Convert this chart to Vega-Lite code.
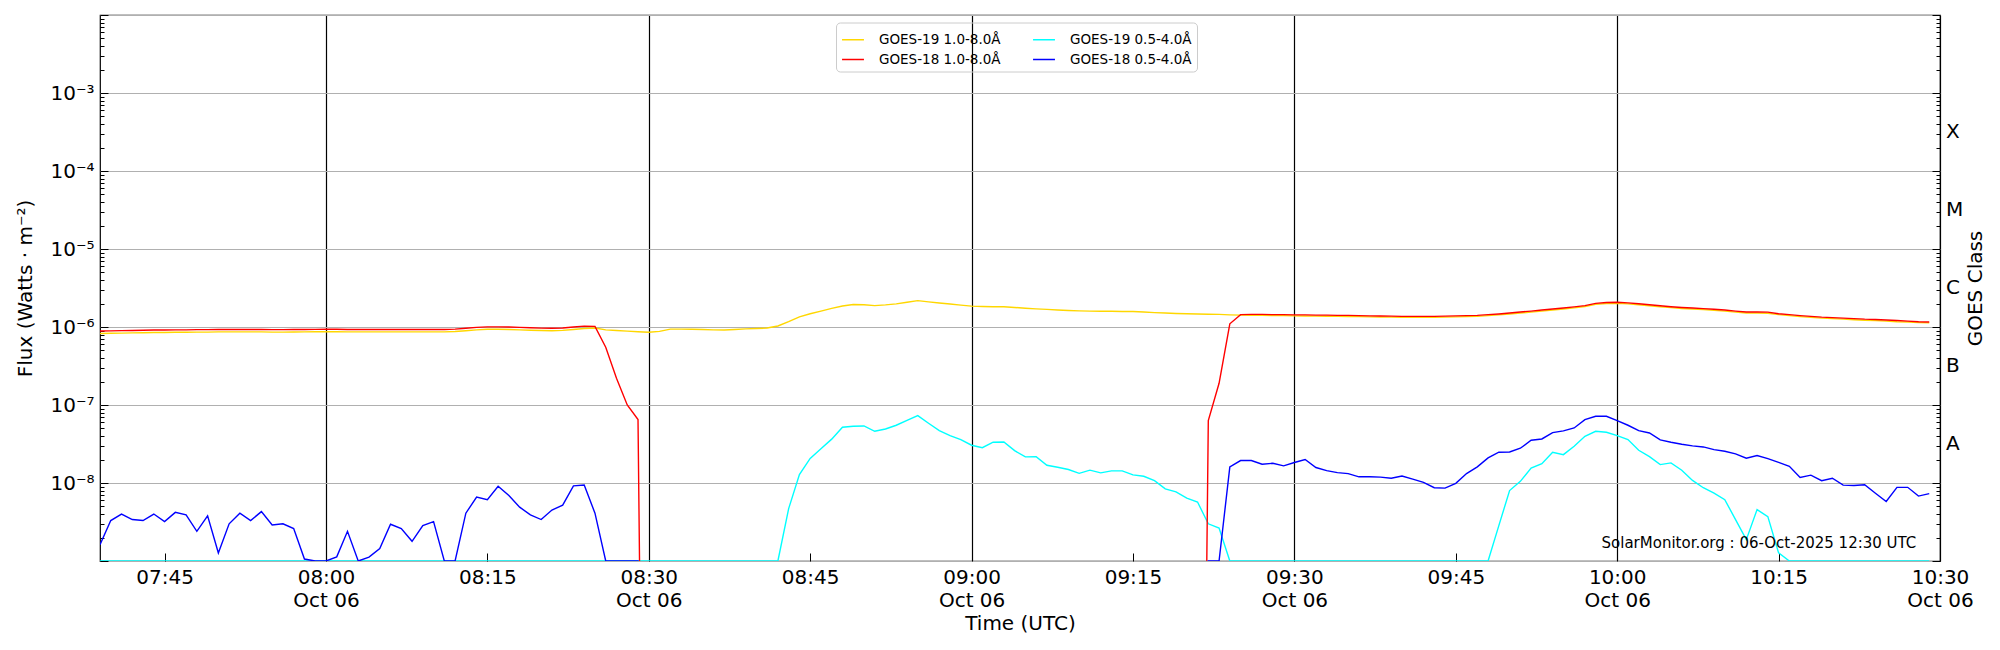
{
"$schema": "https://vega.github.io/schema/vega-lite/v6.json",
"width": 1840, "height": 546,
"autosize": {"type": "none"},
"padding": {"left": 100, "top": 15, "right": 60, "bottom": 89},
"background": "white",
"config": {
  "view": {"stroke": "black", "strokeWidth": 1.2},
  "font": "DejaVu Sans",
  "axis": {"labelFont": "DejaVu Sans", "titleFont": "DejaVu Sans", "labelFontSize": 20, "titleFontSize": 20, "labelColor": "black", "titleColor": "black", "titleFontWeight": "normal", "tickColor": "black", "tickWidth": 1, "domain": false, "labelFlush": false, "labelOverlap": false}
},
"datasets": {"note": [{"note": "SolarMonitor.org : 06-Oct-2025 12:30 UTC"}]},
"data": {"format": {"parse": {"t": "utc:'%Y-%m-%d %H:%M'"}}, "values": [
{"t":"2025-10-06 07:39","g19l":8.25e-7,"g18l":8.87e-7,"g19s":1e-9,"g18s":1.62e-9},
{"t":"2025-10-06 07:40","g19l":8.3e-7,"g18l":8.92e-7,"g19s":1e-9,"g18s":3.3e-9},
{"t":"2025-10-06 07:41","g19l":8.35e-7,"g18l":8.98e-7,"g19s":1e-9,"g18s":4.0e-9},
{"t":"2025-10-06 07:42","g19l":8.4e-7,"g18l":9.03e-7,"g19s":1e-9,"g18s":3.4e-9},
{"t":"2025-10-06 07:43","g19l":8.45e-7,"g18l":9.08e-7,"g19s":1e-9,"g18s":3.3e-9},
{"t":"2025-10-06 07:44","g19l":8.5e-7,"g18l":9.14e-7,"g19s":1e-9,"g18s":4.0e-9},
{"t":"2025-10-06 07:45","g19l":8.5e-7,"g18l":9.14e-7,"g19s":1e-9,"g18s":3.2e-9},
{"t":"2025-10-06 07:46","g19l":8.55e-7,"g18l":9.19e-7,"g19s":1e-9,"g18s":4.2e-9},
{"t":"2025-10-06 07:47","g19l":8.55e-7,"g18l":9.19e-7,"g19s":1e-9,"g18s":3.9e-9},
{"t":"2025-10-06 07:48","g19l":8.6e-7,"g18l":9.25e-7,"g19s":1e-9,"g18s":2.4e-9},
{"t":"2025-10-06 07:49","g19l":8.6e-7,"g18l":9.25e-7,"g19s":1e-9,"g18s":3.8e-9},
{"t":"2025-10-06 07:50","g19l":8.65e-7,"g18l":9.3e-7,"g19s":1e-9,"g18s":1.27e-9},
{"t":"2025-10-06 07:51","g19l":8.65e-7,"g18l":9.3e-7,"g19s":1e-9,"g18s":3.0e-9},
{"t":"2025-10-06 07:52","g19l":8.65e-7,"g18l":9.3e-7,"g19s":1e-9,"g18s":4.1e-9},
{"t":"2025-10-06 07:53","g19l":8.65e-7,"g18l":9.3e-7,"g19s":1e-9,"g18s":3.3e-9},
{"t":"2025-10-06 07:54","g19l":8.65e-7,"g18l":9.3e-7,"g19s":1e-9,"g18s":4.3e-9},
{"t":"2025-10-06 07:55","g19l":8.6e-7,"g18l":9.25e-7,"g19s":1e-9,"g18s":2.9e-9},
{"t":"2025-10-06 07:56","g19l":8.6e-7,"g18l":9.25e-7,"g19s":1e-9,"g18s":3.0e-9},
{"t":"2025-10-06 07:57","g19l":8.62e-7,"g18l":9.27e-7,"g19s":1e-9,"g18s":2.6e-9},
{"t":"2025-10-06 07:58","g19l":8.65e-7,"g18l":9.3e-7,"g19s":1e-9,"g18s":1.06e-9},
{"t":"2025-10-06 07:59","g19l":8.68e-7,"g18l":9.33e-7,"g19s":1e-9,"g18s":1e-9},
{"t":"2025-10-06 08:00","g19l":8.7e-7,"g18l":9.35e-7,"g19s":1e-9,"g18s":1e-9},
{"t":"2025-10-06 08:01","g19l":8.7e-7,"g18l":9.35e-7,"g19s":1e-9,"g18s":1.13e-9},
{"t":"2025-10-06 08:02","g19l":8.65e-7,"g18l":9.3e-7,"g19s":1e-9,"g18s":2.4e-9},
{"t":"2025-10-06 08:03","g19l":8.65e-7,"g18l":9.3e-7,"g19s":1e-9,"g18s":1e-9},
{"t":"2025-10-06 08:04","g19l":8.65e-7,"g18l":9.3e-7,"g19s":1e-9,"g18s":1.12e-9},
{"t":"2025-10-06 08:05","g19l":8.65e-7,"g18l":9.3e-7,"g19s":1e-9,"g18s":1.44e-9},
{"t":"2025-10-06 08:06","g19l":8.65e-7,"g18l":9.3e-7,"g19s":1e-9,"g18s":2.96e-9},
{"t":"2025-10-06 08:07","g19l":8.65e-7,"g18l":9.3e-7,"g19s":1e-9,"g18s":2.6e-9},
{"t":"2025-10-06 08:08","g19l":8.65e-7,"g18l":9.3e-7,"g19s":1e-9,"g18s":1.79e-9},
{"t":"2025-10-06 08:09","g19l":8.65e-7,"g18l":9.3e-7,"g19s":1e-9,"g18s":2.84e-9},
{"t":"2025-10-06 08:10","g19l":8.65e-7,"g18l":9.3e-7,"g19s":1e-9,"g18s":3.2e-9},
{"t":"2025-10-06 08:11","g19l":8.65e-7,"g18l":9.3e-7,"g19s":1e-9,"g18s":1e-9},
{"t":"2025-10-06 08:12","g19l":8.75e-7,"g18l":9.4e-7,"g19s":1e-9,"g18s":1e-9},
{"t":"2025-10-06 08:13","g19l":8.95e-7,"g18l":9.62e-7,"g19s":1e-9,"g18s":4.1e-9},
{"t":"2025-10-06 08:14","g19l":9.2e-7,"g18l":9.89e-7,"g19s":1e-9,"g18s":6.6e-9},
{"t":"2025-10-06 08:15","g19l":9.35e-7,"g18l":1.005e-6,"g19s":1e-9,"g18s":6.1e-9},
{"t":"2025-10-06 08:16","g19l":9.35e-7,"g18l":1.005e-6,"g19s":1e-9,"g18s":9.1e-9},
{"t":"2025-10-06 08:17","g19l":9.3e-7,"g18l":1.0e-6,"g19s":1e-9,"g18s":6.9e-9},
{"t":"2025-10-06 08:18","g19l":9.2e-7,"g18l":9.89e-7,"g19s":1e-9,"g18s":4.9e-9},
{"t":"2025-10-06 08:19","g19l":9.1e-7,"g18l":9.78e-7,"g19s":1e-9,"g18s":3.9e-9},
{"t":"2025-10-06 08:20","g19l":9.0e-7,"g18l":9.68e-7,"g19s":1e-9,"g18s":3.4e-9},
{"t":"2025-10-06 08:21","g19l":8.95e-7,"g18l":9.62e-7,"g19s":1e-9,"g18s":4.5e-9},
{"t":"2025-10-06 08:22","g19l":9.05e-7,"g18l":9.73e-7,"g19s":1e-9,"g18s":5.2e-9},
{"t":"2025-10-06 08:23","g19l":9.3e-7,"g18l":1.0e-6,"g19s":1e-9,"g18s":9.2e-9},
{"t":"2025-10-06 08:24","g19l":9.55e-7,"g18l":1.027e-6,"g19s":1e-9,"g18s":9.4e-9},
{"t":"2025-10-06 08:25","g19l":9.7e-7,"g18l":1.02e-6,"g19s":1e-9,"g18s":4.1e-9},
{"t":"2025-10-06 08:26","g19l":9.2e-7,"g18l":5.5e-7,"g19s":1e-9,"g18s":1e-9},
{"t":"2025-10-06 08:27","g19l":9.0e-7,"g18l":2.2e-7,"g19s":1e-9,"g18s":1e-9},
{"t":"2025-10-06 08:28","g19l":8.85e-7,"g18l":1.0e-7,"g19s":1e-9,"g18s":1e-9},
{"t":"2025-10-06 08:29","g19l":8.7e-7,"g18l":6.5e-8,"g19s":1e-9,"g18s":1e-9},
{"t":"2025-10-06 08:30","g19l":8.55e-7,"g18l":1e-20,"g19s":1e-9,"g18s":1e-20},
{"t":"2025-10-06 08:31","g19l":8.8e-7,"g18l":1e-20,"g19s":1e-9,"g18s":1e-20},
{"t":"2025-10-06 08:32","g19l":9.4e-7,"g18l":1e-20,"g19s":1e-9,"g18s":1e-20},
{"t":"2025-10-06 08:33","g19l":9.4e-7,"g18l":1e-20,"g19s":1e-9,"g18s":1e-20},
{"t":"2025-10-06 08:34","g19l":9.35e-7,"g18l":1e-20,"g19s":1e-9,"g18s":1e-20},
{"t":"2025-10-06 08:35","g19l":9.3e-7,"g18l":1e-20,"g19s":1e-9,"g18s":1e-20},
{"t":"2025-10-06 08:36","g19l":9.2e-7,"g18l":1e-20,"g19s":1e-9,"g18s":1e-20},
{"t":"2025-10-06 08:37","g19l":9.15e-7,"g18l":1e-20,"g19s":1e-9,"g18s":1e-20},
{"t":"2025-10-06 08:38","g19l":9.3e-7,"g18l":1e-20,"g19s":1e-9,"g18s":1e-20},
{"t":"2025-10-06 08:39","g19l":9.45e-7,"g18l":1e-20,"g19s":1e-9,"g18s":1e-20},
{"t":"2025-10-06 08:40","g19l":9.55e-7,"g18l":1e-20,"g19s":1e-9,"g18s":1e-20},
{"t":"2025-10-06 08:41","g19l":9.7e-7,"g18l":1e-20,"g19s":1e-9,"g18s":1e-20},
{"t":"2025-10-06 08:42","g19l":1.03e-6,"g18l":1e-20,"g19s":1e-9,"g18s":1e-20},
{"t":"2025-10-06 08:43","g19l":1.17e-6,"g18l":1e-20,"g19s":4.7e-9,"g18s":1e-20},
{"t":"2025-10-06 08:44","g19l":1.35e-6,"g18l":1e-20,"g19s":1.28e-8,"g18s":1e-20},
{"t":"2025-10-06 08:45","g19l":1.48e-6,"g18l":1e-20,"g19s":2.07e-8,"g18s":1e-20},
{"t":"2025-10-06 08:46","g19l":1.6e-6,"g18l":1e-20,"g19s":2.75e-8,"g18s":1e-20},
{"t":"2025-10-06 08:47","g19l":1.73e-6,"g18l":1e-20,"g19s":3.65e-8,"g18s":1e-20},
{"t":"2025-10-06 08:48","g19l":1.86e-6,"g18l":1e-20,"g19s":5.18e-8,"g18s":1e-20},
{"t":"2025-10-06 08:49","g19l":1.94e-6,"g18l":1e-20,"g19s":5.34e-8,"g18s":1e-20},
{"t":"2025-10-06 08:50","g19l":1.93e-6,"g18l":1e-20,"g19s":5.39e-8,"g18s":1e-20},
{"t":"2025-10-06 08:51","g19l":1.88e-6,"g18l":1e-20,"g19s":4.6e-8,"g18s":1e-20},
{"t":"2025-10-06 08:52","g19l":1.92e-6,"g18l":1e-20,"g19s":4.93e-8,"g18s":1e-20},
{"t":"2025-10-06 08:53","g19l":1.98e-6,"g18l":1e-20,"g19s":5.5e-8,"g18s":1e-20},
{"t":"2025-10-06 08:54","g19l":2.08e-6,"g18l":1e-20,"g19s":6.37e-8,"g18s":1e-20},
{"t":"2025-10-06 08:55","g19l":2.18e-6,"g18l":1e-20,"g19s":7.3e-8,"g18s":1e-20},
{"t":"2025-10-06 08:56","g19l":2.1e-6,"g18l":1e-20,"g19s":5.83e-8,"g18s":1e-20},
{"t":"2025-10-06 08:57","g19l":2.03e-6,"g18l":1e-20,"g19s":4.7e-8,"g18s":1e-20},
{"t":"2025-10-06 08:58","g19l":1.97e-6,"g18l":1e-20,"g19s":4.05e-8,"g18s":1e-20},
{"t":"2025-10-06 08:59","g19l":1.91e-6,"g18l":1e-20,"g19s":3.6e-8,"g18s":1e-20},
{"t":"2025-10-06 09:00","g19l":1.85e-6,"g18l":1e-20,"g19s":3.05e-8,"g18s":1e-20},
{"t":"2025-10-06 09:01","g19l":1.83e-6,"g18l":1e-20,"g19s":2.84e-8,"g18s":1e-20},
{"t":"2025-10-06 09:02","g19l":1.82e-6,"g18l":1e-20,"g19s":3.33e-8,"g18s":1e-20},
{"t":"2025-10-06 09:03","g19l":1.82e-6,"g18l":1e-20,"g19s":3.36e-8,"g18s":1e-20},
{"t":"2025-10-06 09:04","g19l":1.78e-6,"g18l":1e-20,"g19s":2.6e-8,"g18s":1e-20},
{"t":"2025-10-06 09:05","g19l":1.74e-6,"g18l":1e-20,"g19s":2.16e-8,"g18s":1e-20},
{"t":"2025-10-06 09:06","g19l":1.71e-6,"g18l":1e-20,"g19s":2.18e-8,"g18s":1e-20},
{"t":"2025-10-06 09:07","g19l":1.68e-6,"g18l":1e-20,"g19s":1.69e-8,"g18s":1e-20},
{"t":"2025-10-06 09:08","g19l":1.65e-6,"g18l":1e-20,"g19s":1.59e-8,"g18s":1e-20},
{"t":"2025-10-06 09:09","g19l":1.63e-6,"g18l":1e-20,"g19s":1.49e-8,"g18s":1e-20},
{"t":"2025-10-06 09:10","g19l":1.61e-6,"g18l":1e-20,"g19s":1.33e-8,"g18s":1e-20},
{"t":"2025-10-06 09:11","g19l":1.6e-6,"g18l":1e-20,"g19s":1.46e-8,"g18s":1e-20},
{"t":"2025-10-06 09:12","g19l":1.59e-6,"g18l":1e-20,"g19s":1.35e-8,"g18s":1e-20},
{"t":"2025-10-06 09:13","g19l":1.59e-6,"g18l":1e-20,"g19s":1.43e-8,"g18s":1e-20},
{"t":"2025-10-06 09:14","g19l":1.58e-6,"g18l":1e-20,"g19s":1.43e-8,"g18s":1e-20},
{"t":"2025-10-06 09:15","g19l":1.58e-6,"g18l":1e-20,"g19s":1.27e-8,"g18s":1e-20},
{"t":"2025-10-06 09:16","g19l":1.56e-6,"g18l":1e-20,"g19s":1.22e-8,"g18s":1e-20},
{"t":"2025-10-06 09:17","g19l":1.53e-6,"g18l":1e-20,"g19s":1.07e-8,"g18s":1e-20},
{"t":"2025-10-06 09:18","g19l":1.51e-6,"g18l":1e-20,"g19s":8.4e-9,"g18s":1e-20},
{"t":"2025-10-06 09:19","g19l":1.49e-6,"g18l":1e-20,"g19s":7.7e-9,"g18s":1e-20},
{"t":"2025-10-06 09:20","g19l":1.48e-6,"g18l":1e-20,"g19s":6.4e-9,"g18s":1e-20},
{"t":"2025-10-06 09:21","g19l":1.47e-6,"g18l":1e-20,"g19s":5.7e-9,"g18s":1e-20},
{"t":"2025-10-06 09:22","g19l":1.46e-6,"g18l":6.3e-8,"g19s":3.0e-9,"g18s":1e-9},
{"t":"2025-10-06 09:23","g19l":1.45e-6,"g18l":1.9e-7,"g19s":2.65e-9,"g18s":1e-9},
{"t":"2025-10-06 09:24","g19l":1.43e-6,"g18l":1.1e-6,"g19s":1e-9,"g18s":1.61e-8},
{"t":"2025-10-06 09:25","g19l":1.42e-6,"g18l":1.44e-6,"g19s":1e-9,"g18s":1.94e-8},
{"t":"2025-10-06 09:26","g19l":1.41e-6,"g18l":1.45e-6,"g19s":1e-9,"g18s":1.94e-8},
{"t":"2025-10-06 09:27","g19l":1.41e-6,"g18l":1.45e-6,"g19s":1e-9,"g18s":1.74e-8},
{"t":"2025-10-06 09:28","g19l":1.40e-6,"g18l":1.44e-6,"g19s":1e-9,"g18s":1.79e-8},
{"t":"2025-10-06 09:29","g19l":1.40e-6,"g18l":1.44e-6,"g19s":1e-9,"g18s":1.66e-8},
{"t":"2025-10-06 09:30","g19l":1.39e-6,"g18l":1.43e-6,"g19s":1e-9,"g18s":1.83e-8},
{"t":"2025-10-06 09:31","g19l":1.385e-6,"g18l":1.43e-6,"g19s":1e-9,"g18s":2.0e-8},
{"t":"2025-10-06 09:32","g19l":1.38e-6,"g18l":1.42e-6,"g19s":1e-9,"g18s":1.58e-8},
{"t":"2025-10-06 09:33","g19l":1.375e-6,"g18l":1.42e-6,"g19s":1e-9,"g18s":1.44e-8},
{"t":"2025-10-06 09:34","g19l":1.37e-6,"g18l":1.41e-6,"g19s":1e-9,"g18s":1.36e-8},
{"t":"2025-10-06 09:35","g19l":1.365e-6,"g18l":1.41e-6,"g19s":1e-9,"g18s":1.32e-8},
{"t":"2025-10-06 09:36","g19l":1.36e-6,"g18l":1.40e-6,"g19s":1e-9,"g18s":1.2e-8},
{"t":"2025-10-06 09:37","g19l":1.35e-6,"g18l":1.39e-6,"g19s":1e-9,"g18s":1.2e-8},
{"t":"2025-10-06 09:38","g19l":1.345e-6,"g18l":1.385e-6,"g19s":1e-9,"g18s":1.19e-8},
{"t":"2025-10-06 09:39","g19l":1.34e-6,"g18l":1.38e-6,"g19s":1e-9,"g18s":1.15e-8},
{"t":"2025-10-06 09:40","g19l":1.33e-6,"g18l":1.37e-6,"g19s":1e-9,"g18s":1.23e-8},
{"t":"2025-10-06 09:41","g19l":1.33e-6,"g18l":1.37e-6,"g19s":1e-9,"g18s":1.12e-8},
{"t":"2025-10-06 09:42","g19l":1.33e-6,"g18l":1.37e-6,"g19s":1e-9,"g18s":1.02e-8},
{"t":"2025-10-06 09:43","g19l":1.33e-6,"g18l":1.37e-6,"g19s":1e-9,"g18s":8.7e-9},
{"t":"2025-10-06 09:44","g19l":1.34e-6,"g18l":1.38e-6,"g19s":1e-9,"g18s":8.6e-9},
{"t":"2025-10-06 09:45","g19l":1.35e-6,"g18l":1.39e-6,"g19s":1e-9,"g18s":9.9e-9},
{"t":"2025-10-06 09:46","g19l":1.36e-6,"g18l":1.40e-6,"g19s":1e-9,"g18s":1.32e-8},
{"t":"2025-10-06 09:47","g19l":1.37e-6,"g18l":1.41e-6,"g19s":1e-9,"g18s":1.61e-8},
{"t":"2025-10-06 09:48","g19l":1.4e-6,"g18l":1.44e-6,"g19s":1e-9,"g18s":2.1e-8},
{"t":"2025-10-06 09:49","g19l":1.43e-6,"g18l":1.47e-6,"g19s":2.84e-9,"g18s":2.48e-8},
{"t":"2025-10-06 09:50","g19l":1.47e-6,"g18l":1.51e-6,"g19s":8.0e-9,"g18s":2.5e-8},
{"t":"2025-10-06 09:51","g19l":1.51e-6,"g18l":1.56e-6,"g19s":1.05e-8,"g18s":2.79e-8},
{"t":"2025-10-06 09:52","g19l":1.55e-6,"g18l":1.6e-6,"g19s":1.55e-8,"g18s":3.53e-8},
{"t":"2025-10-06 09:53","g19l":1.6e-6,"g18l":1.65e-6,"g19s":1.77e-8,"g18s":3.67e-8},
{"t":"2025-10-06 09:54","g19l":1.65e-6,"g18l":1.7e-6,"g19s":2.48e-8,"g18s":4.43e-8},
{"t":"2025-10-06 09:55","g19l":1.7e-6,"g18l":1.75e-6,"g19s":2.31e-8,"g18s":4.65e-8},
{"t":"2025-10-06 09:56","g19l":1.76e-6,"g18l":1.81e-6,"g19s":2.96e-8,"g18s":5.08e-8},
{"t":"2025-10-06 09:57","g19l":1.83e-6,"g18l":1.88e-6,"g19s":3.97e-8,"g18s":6.5e-8},
{"t":"2025-10-06 09:58","g19l":1.95e-6,"g18l":2.01e-6,"g19s":4.6e-8,"g18s":7.17e-8},
{"t":"2025-10-06 09:59","g19l":2.0e-6,"g18l":2.06e-6,"g19s":4.47e-8,"g18s":7.17e-8},
{"t":"2025-10-06 10:00","g19l":2.02e-6,"g18l":2.08e-6,"g19s":4.05e-8,"g18s":6.3e-8},
{"t":"2025-10-06 10:01","g19l":1.98e-6,"g18l":2.04e-6,"g19s":3.6e-8,"g18s":5.5e-8},
{"t":"2025-10-06 10:02","g19l":1.93e-6,"g18l":1.99e-6,"g19s":2.63e-8,"g18s":4.7e-8},
{"t":"2025-10-06 10:03","g19l":1.87e-6,"g18l":1.93e-6,"g19s":2.18e-8,"g18s":4.38e-8},
{"t":"2025-10-06 10:04","g19l":1.82e-6,"g18l":1.87e-6,"g19s":1.72e-8,"g18s":3.57e-8},
{"t":"2025-10-06 10:05","g19l":1.77e-6,"g18l":1.82e-6,"g19s":1.81e-8,"g18s":3.33e-8},
{"t":"2025-10-06 10:06","g19l":1.73e-6,"g18l":1.78e-6,"g19s":1.46e-8,"g18s":3.14e-8},
{"t":"2025-10-06 10:07","g19l":1.7e-6,"g18l":1.75e-6,"g19s":1.08e-8,"g18s":2.99e-8},
{"t":"2025-10-06 10:08","g19l":1.67e-6,"g18l":1.72e-6,"g19s":8.7e-9,"g18s":2.9e-8},
{"t":"2025-10-06 10:09","g19l":1.64e-6,"g18l":1.69e-6,"g19s":7.4e-9,"g18s":2.68e-8},
{"t":"2025-10-06 10:10","g19l":1.6e-6,"g18l":1.65e-6,"g19s":6.1e-9,"g18s":2.55e-8},
{"t":"2025-10-06 10:11","g19l":1.55e-6,"g18l":1.6e-6,"g19s":3.4e-9,"g18s":2.36e-8},
{"t":"2025-10-06 10:12","g19l":1.51e-6,"g18l":1.56e-6,"g19s":1.88e-9,"g18s":2.08e-8},
{"t":"2025-10-06 10:13","g19l":1.51e-6,"g18l":1.56e-6,"g19s":4.56e-9,"g18s":2.25e-8},
{"t":"2025-10-06 10:14","g19l":1.5e-6,"g18l":1.55e-6,"g19s":3.71e-9,"g18s":2.05e-8},
{"t":"2025-10-06 10:15","g19l":1.44e-6,"g18l":1.48e-6,"g19s":1.27e-9,"g18s":1.84e-8},
{"t":"2025-10-06 10:16","g19l":1.40e-6,"g18l":1.44e-6,"g19s":1e-9,"g18s":1.64e-8},
{"t":"2025-10-06 10:17","g19l":1.36e-6,"g18l":1.40e-6,"g19s":1e-9,"g18s":1.18e-8},
{"t":"2025-10-06 10:18","g19l":1.33e-6,"g18l":1.37e-6,"g19s":1e-9,"g18s":1.26e-8},
{"t":"2025-10-06 10:19","g19l":1.30e-6,"g18l":1.34e-6,"g19s":1e-9,"g18s":1.07e-8},
{"t":"2025-10-06 10:20","g19l":1.28e-6,"g18l":1.32e-6,"g19s":1e-9,"g18s":1.15e-8},
{"t":"2025-10-06 10:21","g19l":1.26e-6,"g18l":1.30e-6,"g19s":1e-9,"g18s":9.4e-9},
{"t":"2025-10-06 10:22","g19l":1.24e-6,"g18l":1.28e-6,"g19s":1e-9,"g18s":9.3e-9},
{"t":"2025-10-06 10:23","g19l":1.22e-6,"g18l":1.26e-6,"g19s":1e-9,"g18s":9.5e-9},
{"t":"2025-10-06 10:24","g19l":1.21e-6,"g18l":1.25e-6,"g19s":1e-9,"g18s":7.4e-9},
{"t":"2025-10-06 10:25","g19l":1.19e-6,"g18l":1.23e-6,"g19s":1e-9,"g18s":5.8e-9},
{"t":"2025-10-06 10:26","g19l":1.17e-6,"g18l":1.21e-6,"g19s":1e-9,"g18s":8.8e-9},
{"t":"2025-10-06 10:27","g19l":1.16e-6,"g18l":1.19e-6,"g19s":1e-9,"g18s":8.8e-9},
{"t":"2025-10-06 10:28","g19l":1.14e-6,"g18l":1.17e-6,"g19s":1e-9,"g18s":6.8e-9},
{"t":"2025-10-06 10:29","g19l":1.13e-6,"g18l":1.16e-6,"g19s":1e-9,"g18s":7.3e-9}
]},
"layer": [
  {"mark": {"type": "line", "clip": true, "strokeWidth": 1.4},
   "encoding": {
     "x": {"field": "t", "type": "temporal",
       "scale": {"type": "utc", "domain": [{"year": 2025, "month": 10, "date": 6, "hours": 7, "minutes": 39, "utc": true}, {"year": 2025, "month": 10, "date": 6, "hours": 10, "minutes": 30, "utc": true}]},
       "axis": {
         "values": [
           {"year": 2025, "month": 10, "date": 6, "hours": 7, "minutes": 45, "utc": true},
           {"year": 2025, "month": 10, "date": 6, "hours": 8, "minutes": 0, "utc": true},
           {"year": 2025, "month": 10, "date": 6, "hours": 8, "minutes": 15, "utc": true},
           {"year": 2025, "month": 10, "date": 6, "hours": 8, "minutes": 30, "utc": true},
           {"year": 2025, "month": 10, "date": 6, "hours": 8, "minutes": 45, "utc": true},
           {"year": 2025, "month": 10, "date": 6, "hours": 9, "minutes": 0, "utc": true},
           {"year": 2025, "month": 10, "date": 6, "hours": 9, "minutes": 15, "utc": true},
           {"year": 2025, "month": 10, "date": 6, "hours": 9, "minutes": 30, "utc": true},
           {"year": 2025, "month": 10, "date": 6, "hours": 9, "minutes": 45, "utc": true},
           {"year": 2025, "month": 10, "date": 6, "hours": 10, "minutes": 0, "utc": true},
           {"year": 2025, "month": 10, "date": 6, "hours": 10, "minutes": 15, "utc": true},
           {"year": 2025, "month": 10, "date": 6, "hours": 10, "minutes": 30, "utc": true}
         ],
         "labelExpr": "utcminutes(datum.value) % 30 == 0 ? [utcFormat(datum.value, '%H:%M'), utcFormat(datum.value, '%b %d')] : utcFormat(datum.value, '%H:%M')",
         "tickSize": -8, "labelPadding": 14, "labelLineHeight": 23,
         "grid": true,
         "gridColor": {"condition": {"test": "utcminutes(datum.value) % 30 == 0", "value": "black"}, "value": "rgba(0,0,0,0)"},
         "gridWidth": 1.2, "gridOpacity": 1,
         "title": "Time (UTC)", "titlePadding": 3
       }},
     "y": {"field": "g19l", "type": "quantitative", "scale": {"type": "log", "domain": [1e-9, 1e-2]},
       "axis": {"orient": "left", "values": [1e-9, 1e-8, 1e-7, 1e-6, 1e-5, 1e-4, 1e-3, 1e-2], "tickSize": -8, "labelPadding": 14,
         "labelExpr": "datum.value < 5e-9 || datum.value > 5e-3 ? '' : '10⁻' + ['⁰','¹','²','³','⁴','⁵','⁶','⁷','⁸','⁹'][round(-log(datum.value)/LN10)]",
         "grid": true, "gridColor": "#b0b0b0", "gridWidth": 1, "gridOpacity": 1,
         "title": "Flux (Watts · m⁻²)", "titlePadding": 14}},
     "color": {"datum": "g19l", "type": "nominal",
       "scale": {"domain": ["g19l", "g18l", "g19s", "g18s"], "range": ["#FFD700", "#FF0000", "#00FFFF", "#0000FF"]},
       "legend": {"orient": "none", "legendX": 736, "legendY": 7.5, "columns": 2, "title": null,
         "symbolType": "stroke", "symbolSize": 480, "symbolStrokeWidth": 1.5,
         "labelFont": "DejaVu Sans", "labelFontSize": 13.5, "labelColor": "black", "labelOffset": 14,
         "labelExpr": "datum.label == 'g19l' ? 'GOES-19 1.0-8.0Å' : datum.label == 'g19s' ? 'GOES-19 0.5-4.0Å' : datum.label == 'g18l' ? 'GOES-18 1.0-8.0Å' : 'GOES-18 0.5-4.0Å'",
         "strokeColor": "#cccccc", "padding": 5, "cornerRadius": 4,
         "columnPadding": 29, "rowPadding": 1}}
   }},
  {"mark": {"type": "line", "clip": true, "strokeWidth": 1.4},
   "encoding": {
     "x": {"field": "t", "type": "temporal"},
     "y": {"field": "g19s", "type": "quantitative",
       "axis": {"orient": "right", "values": [1e-9, 1e-8, 1e-7, 1e-6, 1e-5, 1e-4, 1e-3, 1e-2, 3.1623e-8, 3.1623e-7, 3.1623e-6, 3.1623e-5, 3.1623e-4],
         "tickSize": -8, "labelPadding": 13.5,
         "tickOpacity": {"condition": {"test": "abs(log(datum.value)/LN10 - round(log(datum.value)/LN10)) > 0.25", "value": 0}, "value": 1},
         "labelExpr": "abs(log(datum.value)/LN10 - round(log(datum.value)/LN10)) < 0.25 ? '' : (datum.value < 1e-7 ? 'A' : datum.value < 1e-6 ? 'B' : datum.value < 1e-5 ? 'C' : datum.value < 1e-4 ? 'M' : 'X')",
         "grid": false, "title": "GOES Class", "titleAngle": 270, "titleX": 35, "titleY": 273, "titleAlign": "center", "titleBaseline": "middle"}},
     "color": {"datum": "g19s", "type": "nominal"}
   }},
  {"mark": {"type": "line", "clip": true, "strokeWidth": 1.4},
   "encoding": {
     "x": {"field": "t", "type": "temporal"},
     "y": {"field": "g18l", "type": "quantitative",
       "axis": {"orient": "left", "values": [2e-9,3e-9,4e-9,5e-9,6e-9,7e-9,8e-9,9e-9,2e-8,3e-8,4e-8,5e-8,6e-8,7e-8,8e-8,9e-8,2e-7,3e-7,4e-7,5e-7,6e-7,7e-7,8e-7,9e-7,2e-6,3e-6,4e-6,5e-6,6e-6,7e-6,8e-6,9e-6,2e-5,3e-5,4e-5,5e-5,6e-5,7e-5,8e-5,9e-5,2e-4,3e-4,4e-4,5e-4,6e-4,7e-4,8e-4,9e-4,2e-3,3e-3,4e-3,5e-3,6e-3,7e-3,8e-3,9e-3],
         "tickSize": -4, "labels": false, "grid": false, "title": null}},
     "color": {"datum": "g18l", "type": "nominal"}
   }},
  {"mark": {"type": "line", "clip": true, "strokeWidth": 1.4},
   "encoding": {
     "x": {"field": "t", "type": "temporal"},
     "y": {"field": "g18s", "type": "quantitative",
       "axis": {"orient": "right", "values": [2e-9,3e-9,4e-9,5e-9,6e-9,7e-9,8e-9,9e-9,2e-8,3e-8,4e-8,5e-8,6e-8,7e-8,8e-8,9e-8,2e-7,3e-7,4e-7,5e-7,6e-7,7e-7,8e-7,9e-7,2e-6,3e-6,4e-6,5e-6,6e-6,7e-6,8e-6,9e-6,2e-5,3e-5,4e-5,5e-5,6e-5,7e-5,8e-5,9e-5,2e-4,3e-4,4e-4,5e-4,6e-4,7e-4,8e-4,9e-4,2e-3,3e-3,4e-3,5e-3,6e-3,7e-3,8e-3,9e-3],
         "tickSize": -4, "labels": false, "grid": false, "title": null}},
     "color": {"datum": "g18s", "type": "nominal"}
   }},
  {"data": {"name": "note"},
   "mark": {"type": "text", "align": "right", "baseline": "alphabetic", "font": "DejaVu Sans", "fontSize": 15, "fill": "black"},
   "encoding": {
     "text": {"field": "note", "type": "nominal"},
     "x": {"datum": {"year": 2025, "month": 10, "date": 6, "hours": 10, "minutes": 27, "seconds": 48, "utc": true}, "type": "temporal"},
     "y": {"datum": 1.47e-9, "type": "quantitative", "axis": null}
   }}
],
"resolve": {"axis": {"y": "independent"}}
}
